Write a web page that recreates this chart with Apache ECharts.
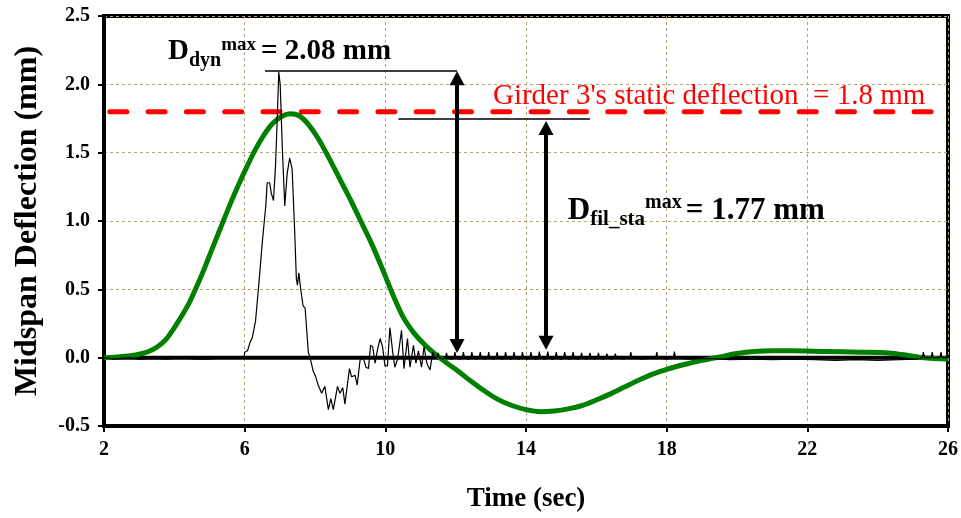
<!DOCTYPE html>
<html><head><meta charset="utf-8">
<script src="https://cdn.jsdelivr.net/npm/echarts@6/dist/echarts.min.js"></script>
<style>html,body{margin:0;padding:0;background:#fff}#c{width:961px;height:518px}</style>
</head><body><div id="c"></div>
<script>
// ---- data ----
const xTicks = [2, 6, 10, 14, 18, 22, 26];
const yTicks = [-0.5, 0.0, 0.5, 1.0, 1.5, 2.0, 2.5];

// dynamic (measured) deflection, [time s, deflection mm]
const dynamicSignal = [
  [2.0,0.0],[2.3,-0.01],[2.7,0.0],[3.0,-0.01],[3.4,-0.005],[3.8,-0.01],[4.2,0.0],[4.6,-0.01],[5.0,-0.01],[5.4,0.0],[5.8,-0.005],[5.98,0.0],
  [6.0,0.04],[6.08,0.05],[6.15,0.11],[6.22,0.15],[6.31,0.27],[6.41,0.56],[6.50,0.84],[6.60,1.11],[6.64,1.28],[6.71,1.28],[6.76,1.20],[6.82,1.15],
  [6.88,1.42],[6.93,1.78],[6.97,2.09],[7.01,2.00],[7.07,1.54],[7.14,1.11],[7.21,1.35],[7.28,1.46],[7.35,1.38],[7.42,0.94],[7.47,0.58],[7.50,0.53],
  [7.54,0.62],[7.59,0.51],[7.66,0.38],[7.72,0.36],[7.81,0.04],[7.86,0.0],[7.95,-0.10],[8.02,-0.14],[8.09,-0.20],[8.19,-0.26],[8.28,-0.21],[8.38,-0.38],
  [8.45,-0.30],[8.52,-0.38],[8.64,-0.21],[8.71,-0.26],[8.79,-0.22],[8.85,-0.34],[8.98,-0.08],[9.04,-0.14],[9.14,-0.13],[9.20,-0.20],[9.28,-0.02],[9.37,0.00],
  [9.45,-0.07],[9.52,-0.08],[9.58,0.09],[9.64,0.08],[9.71,-0.04],[9.77,0.05],[9.85,0.14],[9.92,0.08],[9.99,-0.06],[10.06,-0.06],[10.13,0.22],[10.21,0.04],
  [10.27,-0.07],[10.35,-0.01],[10.46,0.20],[10.53,-0.08],[10.63,0.14],[10.70,-0.07],[10.80,0.09],[10.87,-0.04],[10.94,0.05],[11.03,-0.07],[11.10,0.08],
  [11.18,-0.04],[11.27,-0.09],[11.35,0.04],[11.41,0.0],
  [11.47,0.0],[11.50,0.035],[11.53,0.0],[11.64,-0.012],[11.71,0.0],[11.74,0.035],[11.77,0.0],[11.88,-0.012],[11.95,0.0],[11.98,0.04],[12.01,0.0],
  [12.12,-0.012],[12.19,0.0],[12.22,0.04],[12.25,0.0],[12.36,-0.012],[12.43,0.0],[12.46,0.04],[12.49,0.0],[12.60,-0.012],[12.67,0.0],[12.70,0.04],
  [12.73,0.0],[12.84,-0.012],[12.91,0.0],[12.94,0.04],[12.97,0.0],[13.08,-0.012],[13.15,0.0],[13.18,0.04],[13.21,0.0],[13.32,-0.012],[13.39,0.0],
  [13.42,0.04],[13.45,0.0],[13.56,-0.012],[13.63,0.0],[13.66,0.04],[13.69,0.0],[13.80,-0.012],[13.87,0.0],[13.90,0.04],[13.93,0.0],[14.04,-0.012],
  [14.11,0.0],[14.14,0.04],[14.17,0.0],[14.28,-0.012],[14.35,0.0],[14.38,0.045],[14.41,0.0],[14.52,-0.012],[14.59,0.0],[14.62,0.045],[14.65,0.0],
  [14.76,-0.012],[14.83,0.0],[14.86,0.04],[14.89,0.0],[15.00,-0.012],[15.07,0.0],[15.10,0.04],[15.13,0.0],[15.24,-0.012],[15.31,0.0],[15.34,0.04],
  [15.37,0.0],[15.48,-0.012],[15.55,0.0],[15.58,0.035],[15.61,0.0],[15.72,-0.012],[15.79,0.0],[15.82,0.035],[15.85,0.0],[15.96,-0.012],[16.03,0.0],
  [16.06,0.035],[16.09,0.0],[16.20,-0.012],[16.27,0.0],[16.30,0.03],[16.33,0.0],[16.44,-0.012],[16.51,0.0],[16.54,0.03],[16.57,0.0],[16.75,-0.01],
  [16.95,0.0],[16.98,0.04],[17.01,0.0],[17.30,-0.01],[17.69,0.0],[17.72,0.04],[17.75,0.0],[18.00,-0.01],[18.19,0.0],[18.22,0.045],[18.25,0.0],
  [18.6,-0.01],[19.2,-0.005],[19.8,-0.015],[20.4,-0.01],[21.0,-0.015],[21.6,-0.01],[22.2,-0.015],[22.8,-0.02],[23.4,-0.015],[24.0,-0.02],[24.6,-0.015],
  [25.1,-0.01],[25.27,0.0],[25.30,0.04],[25.33,0.0],[25.52,0.0],[25.55,0.04],[25.58,0.0],[25.77,0.0],[25.80,0.04],[25.83,0.0],[26.0,0.0]
];

// filtered static deflection (green), [time s, deflection mm]
const filteredStatic = [
  [2.0,0.0],[2.3,0.003],[2.6,0.01],[2.9,0.02],[3.15,0.035],[3.35,0.055],[3.55,0.085],[3.75,0.13],[3.95,0.2],[4.15,0.28],[4.4,0.39],[4.6,0.5],
  [4.85,0.65],[5.05,0.78],[5.3,0.94],[5.55,1.1],[5.8,1.25],[6.05,1.39],[6.3,1.52],[6.55,1.63],[6.8,1.715],[7.05,1.765],[7.3,1.785],[7.55,1.77],
  [7.8,1.71],[8.1,1.6],[8.4,1.46],[8.7,1.31],[9.0,1.16],[9.3,1.0],[9.6,0.84],[9.9,0.66],[10.2,0.47],[10.5,0.3],[10.8,0.185],[11.1,0.1],
  [11.4,0.03],[11.7,-0.03],[12.0,-0.085],[12.4,-0.165],[12.8,-0.24],[13.2,-0.305],[13.6,-0.35],[14.0,-0.38],[14.4,-0.395],[14.8,-0.39],
  [15.2,-0.375],[15.6,-0.35],[16.0,-0.31],[16.4,-0.265],[16.8,-0.215],[17.2,-0.165],[17.6,-0.12],[18.0,-0.085],[18.5,-0.05],[19.0,-0.02],
  [19.5,0.005],[20.0,0.03],[20.5,0.045],[21.0,0.05],[21.5,0.05],[22.5,0.045],[23.5,0.04],[24.3,0.035],[24.8,0.02],[25.3,0.0],[26.0,-0.01]
];

// Girder 3 static deflection reference
const staticRef = [[2, 1.8], [26, 1.8]];
const zeroLine = [[2, 0], [26, 0]];

// annotation values (data coordinates)
const dynLine = [[6.58, 2.10], [12.04, 2.10]];
const dynArrow = [[12.04, 0.085], [12.04, 2.045]];
const filLine = [[10.37, 1.75], [15.82, 1.75]];
const filArrow = [[14.57, 0.11], [14.57, 1.68]];
const dynLabelAt = [3.82, 2.17];
const filLabelAt = [15.19, 1.0];
const staticLabelAt = [13.06, 1.915];

const FONT = '"Liberation Serif","Times New Roman",serif';
const chart = echarts.init(document.getElementById('c'), null, {renderer: 'canvas'});

const axisLbl = {fontFamily: FONT, fontWeight: 'bold', fontSize: 20, color: '#000'};
const gridLine = {show: true, lineStyle: {color: '#b3a57a', type: [3, 3], width: 1}};

chart.setOption({
  animation: false,
  grid: {left: 104, right: 13, top: 16, bottom: 85, show: true, borderColor: '#000', borderWidth: 4},
  xAxis: {
    type: 'value', min: xTicks[0], max: xTicks[xTicks.length - 1], interval: 4,
    axisLine: {onZero: false, lineStyle: {color: '#000', width: 4}},
    axisTick: {show: true, length: 6, lineStyle: {color: '#000', width: 2}},
    axisLabel: Object.assign({margin: 14}, axisLbl),
    splitLine: gridLine,
    name: 'Time (sec)', nameLocation: 'middle', nameGap: 60,
    nameTextStyle: {fontFamily: FONT, fontWeight: 'bold', fontSize: 27, color: '#000'}
  },
  yAxis: {
    type: 'value', min: yTicks[0], max: yTicks[yTicks.length - 1], interval: 0.5,
    axisLine: {onZero: false, lineStyle: {color: '#000', width: 4}},
    axisTick: {show: true, length: 6, lineStyle: {color: '#000', width: 2}},
    axisLabel: Object.assign({margin: 14, formatter: v => v.toFixed(1)}, axisLbl),
    splitLine: gridLine,
    name: 'Midspan Deflection (mm)', nameLocation: 'middle', nameGap: 60,
    nameTextStyle: {fontFamily: FONT, fontWeight: 'bold', fontSize: 32, color: '#000'}
  },
  series: [
    {type: 'line', data: zeroLine, showSymbol: false, z: 1, silent: true,
     lineStyle: {color: '#000', width: 4}},
    {type: 'line', data: filteredStatic, showSymbol: false, smooth: 0.3, z: 2, silent: true,
     lineStyle: {color: '#008000', width: 5, join: 'round'}},
    {type: 'line', data: staticRef, showSymbol: false, z: 3, silent: true,
     lineStyle: {color: '#ff0000', width: 5, type: [17, 21.3], dashOffset: 32.5, cap: 'round'}},
    {type: 'line', data: dynamicSignal, showSymbol: false, z: 4, silent: true,
     lineStyle: {color: '#000', width: 1.2}},
    {type: 'line', data: [], z: 5, silent: true,
     markLine: {silent: true, animation: false, symbol: ['none', 'none'], label: {show: false},
       lineStyle: {color: '#000', width: 1.5, type: 'solid'},
       data: [[{coord: dynLine[0]}, {coord: dynLine[1]}], [{coord: filLine[0]}, {coord: filLine[1]}]]}},
    {type: 'line', data: [], z: 6, silent: true,
     markLine: {silent: true, animation: false, symbol: ['triangle', 'triangle'], symbolSize: [15, 14], label: {show: false},
       lineStyle: {color: '#000', width: 4, type: 'solid'},
       data: [[{coord: dynArrow[0]}, {coord: dynArrow[1]}], [{coord: filArrow[0]}, {coord: filArrow[1]}]]}}
  ]
});

// ---- text annotations with sub/superscripts ----
const ctx = document.createElement('canvas').getContext('2d');
function width(txt, size, weight) { ctx.font = weight + ' ' + size + 'px "Liberation Serif"'; return ctx.measureText(txt).width; }
function buildLabel(anchor, parts, color, weight) {
  const p = chart.convertToPixel({gridIndex: 0}, anchor);
  let x = p[0];
  const out = [];
  parts.forEach(pt => {
    x += pt.gap || 0;
    out.push({type: 'text', z: 100, silent: true, style: {
      text: pt.t, x: x, y: p[1] + pt.dy - 0.3375 * pt.s,
      font: weight + ' ' + pt.s + 'px ' + FONT, fill: color, align: 'left', verticalAlign: 'middle'}});
    x += width(pt.t, pt.s, weight);
  });
  return out;
}
const g = [].concat(
  buildLabel(dynLabelAt, [{t: 'D', s: 29, dy: 0}, {t: 'dyn', s: 20, dy: 6}, {t: 'max', s: 19, dy: -10}, {t: '= 2.08 mm', s: 29, dy: 0, gap: 5}], '#000', 'bold'),
  buildLabel(filLabelAt, [{t: 'D', s: 31, dy: 0}, {t: 'fil_sta', s: 21, dy: 6}, {t: 'max', s: 20, dy: -11}, {t: '= 1.77 mm', s: 31, dy: 0, gap: 4}], '#000', 'bold'),
  buildLabel(staticLabelAt, [{t: "Girder 3's static deflection  = 1.8 mm", s: 29, dy: 10}], '#ff0000', 'normal')
);
chart.setOption({graphic: g});
</script></body></html>
